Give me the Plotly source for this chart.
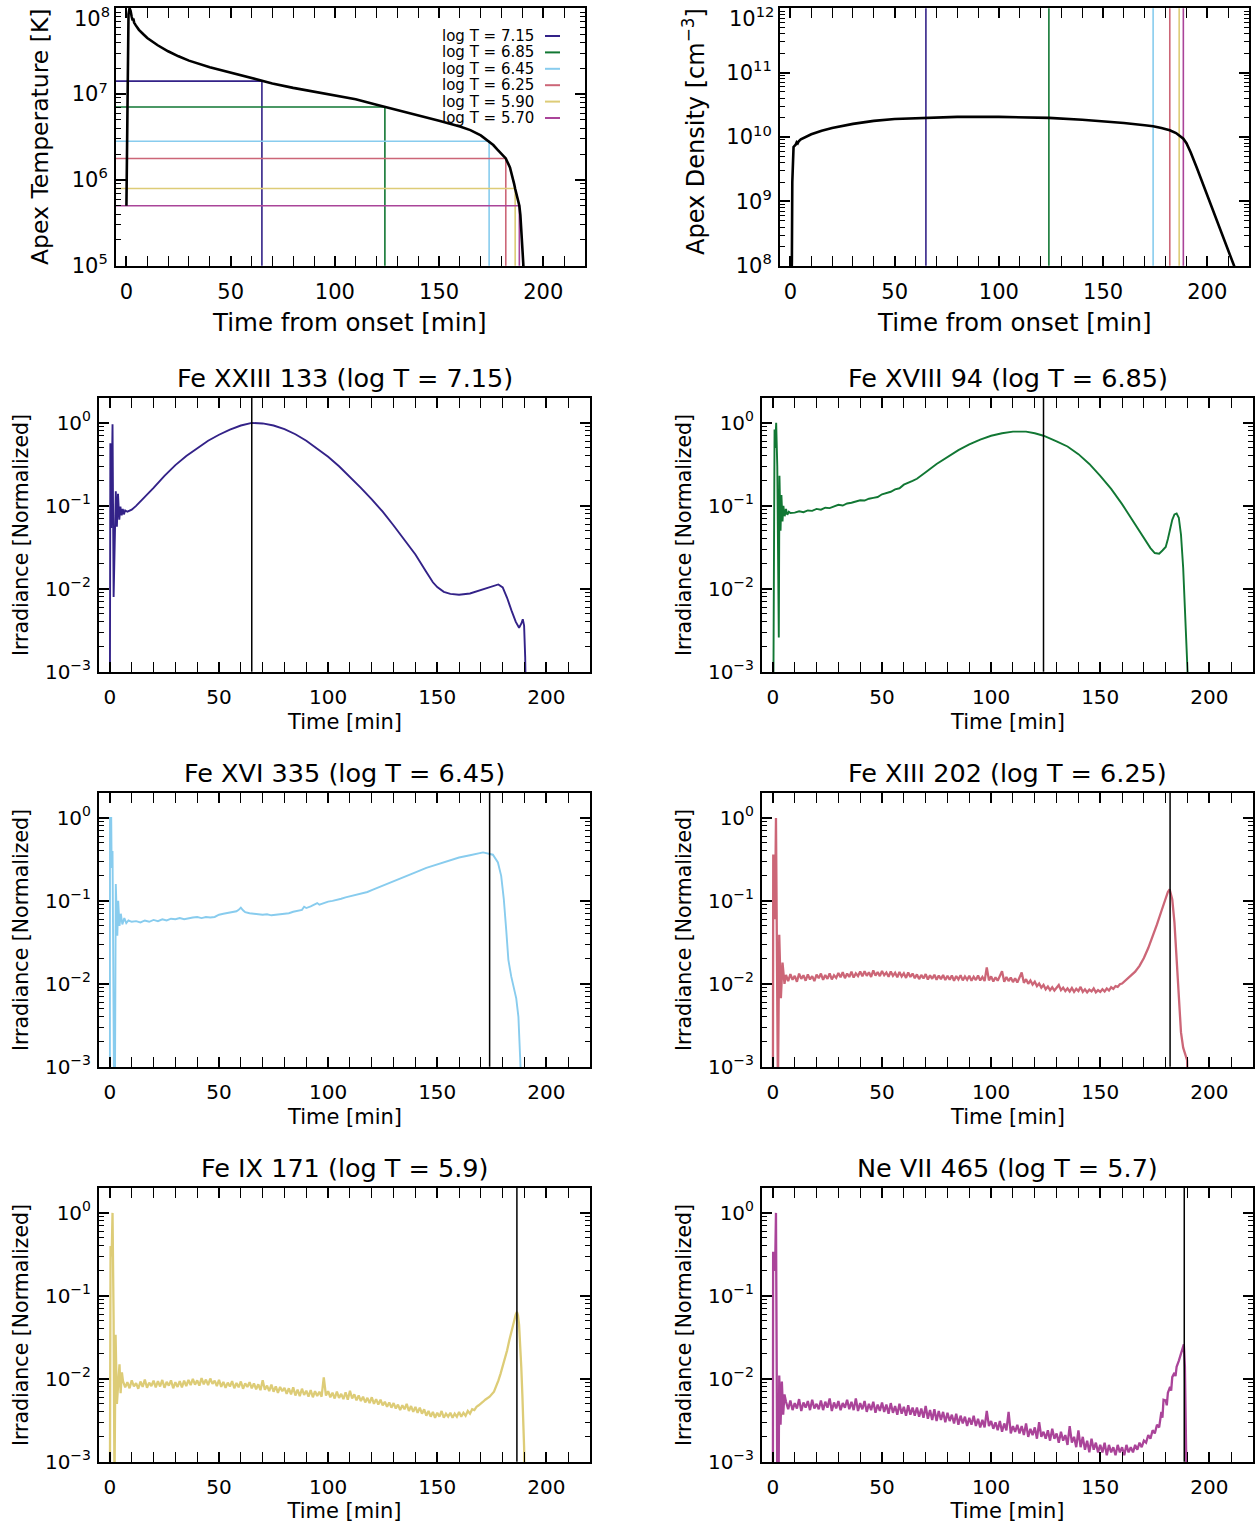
import numpy as np
import plotly.graph_objects as go

W, H = 1258, 1525          # reference picture size (all pixel positions below)
FIG_H = 1537               # page height actually photographed, squeezed to H
FONT = "DejaVu Sans"

# ---------------- data ----------------
colors = ["#332288", "#117733", "#88CCEE", "#CC6677", "#DDCC77", "#AA4499"]
line_logT = [7.15, 6.85, 6.45, 6.25, 5.90, 5.70]
line_times = [65.0, 124.0, 174.0, 182.0, 186.5, 188.5]
legend_labels = ["log T = 7.15", "log T = 6.85", "log T = 6.45",
                 "log T = 6.25", "log T = 5.90", "log T = 5.70"]
ion_titles = ["Fe XXIII 133 (log T = 7.15)", "Fe XVIII 94 (log T = 6.85)",
              "Fe XVI 335 (log T = 6.45)", "Fe XIII 202 (log T = 6.25)",
              "Fe IX 171 (log T = 5.9)", "Ne VII 465 (log T = 5.7)"]
x_ticks = [0, 50, 100, 150, 200]

t_temp = [0.0, 0.3, 0.6, 1.0, 1.5, 2.0, 2.5, 3.0, 3.3, 3.7, 4.5, 6, 8, 10, 15,
          20, 25, 30, 40, 50, 60, 65, 70, 80, 90, 100, 110, 120, 124, 130,
          140, 150, 160, 165, 170, 174, 176, 178, 180, 182, 184, 185, 186,
          186.5, 187, 188, 188.5, 189, 189.5, 190, 190.5, 191]
T_apex = [5.0e5, 4e6, 3e7, 8.5e7, 1.0e8, 9.3e7, 8.0e7, 7.2e7, 7.6e7, 6.8e7,
          6.3e7, 5.6e7, 5.0e7, 4.5e7, 3.7e7, 3.15e7, 2.75e7, 2.45e7, 2.05e7,
          1.78e7, 1.53e7, 1.42e7, 1.33e7, 1.18e7, 1.07e7, 9.7e6, 8.7e6, 7.5e6,
          7.1e6, 6.5e6, 5.6e6, 4.9e6, 4.2e6, 3.8e6, 3.3e6, 2.82e6, 2.55e6,
          2.25e6, 2.0e6, 1.78e6, 1.4e6, 1.15e6, 9.0e5, 7.9e5, 7.0e5, 5.6e5,
          5.0e5, 3.9e5, 2.6e5, 1.6e5, 1.0e5, 6e4]

t_dens = [0.5, 0.7, 0.9, 1.1, 1.5, 2.5, 3.0, 3.5, 4, 5, 7, 10, 15, 20, 30, 40,
          50, 65, 80, 100, 110, 124, 140, 150, 160, 170, 174, 178, 182, 185,
          187, 188.5, 190, 192, 195, 200, 205, 210, 213, 214]
n_apex = [5e7, 1.2e8, 2e9, 5e9, 7e9, 7.6e9, 8.3e9, 8.0e9, 8.6e9, 9.2e9,
          1.0e10, 1.1e10, 1.25e10, 1.38e10, 1.6e10, 1.78e10, 1.9e10, 1.98e10,
          2.05e10, 2.05e10, 2.03e10, 1.98e10, 1.85e10, 1.75e10, 1.65e10,
          1.52e10, 1.47e10, 1.38e10, 1.27e10, 1.15e10, 1.04e10, 9.4e9, 8.0e9,
          5.8e9, 3.3e9, 1.25e9, 4.7e8, 1.8e8, 1.0e8, 8e7]

# Fe XXIII 133
t_fe23 = [0.0, 0.2, 0.6, 1.2, 1.7, 2.7, 3.2, 3.7, 4.3, 4.8, 5.4, 5.9, 6.4, 7.0,
          8.0, 10, 12, 15, 20, 25, 30, 35, 40, 45, 50, 55, 60, 65, 70, 75, 80,
          85, 90, 95, 100, 105, 110, 115, 120, 125, 130, 135, 140, 145, 148,
          150, 153, 156, 160, 165, 170, 175, 178, 180, 182, 184, 186, 187.5,
          188.5, 189.2, 189.8, 190.3, 190.6]
I_fe23 = [0.0005, 0.57, 0.054, 0.96, 0.008, 0.15, 0.056, 0.14, 0.068, 0.098,
          0.077, 0.092, 0.079, 0.088, 0.085, 0.09, 0.10, 0.12, 0.165, 0.23,
          0.31, 0.40, 0.50, 0.61, 0.72, 0.83, 0.93, 1.0, 0.985, 0.93, 0.84,
          0.73, 0.61, 0.49, 0.39, 0.30, 0.225, 0.165, 0.12, 0.085, 0.058,
          0.039, 0.026, 0.016, 0.012, 0.0105, 0.0092, 0.0087, 0.0085, 0.0088,
          0.0097, 0.0108, 0.0113, 0.0104, 0.0078, 0.0055, 0.0040, 0.0034,
          0.0038, 0.0043, 0.0036, 0.0015, 0.0005]

# Fe XVIII 94
t_fe18 = ([0.2, 0.5, 0.75, 1.0, 1.5, 2.0, 2.7, 3.0, 3.5, 3.9, 4.4, 4.8, 5.4,
           6.0, 6.6, 7.3, 8] + list(range(10, 71, 2)) +
          [75, 80, 85, 90, 95, 100, 105, 110, 113, 116, 120, 124, 130, 135,
           140, 145, 150, 155, 160, 165, 170, 173, 175, 177, 178.5, 180, 181,
           182, 183, 184, 185, 186, 187, 188, 189, 190, 190.5])
I_fe18 = [0.0005, 0.3, 0.83, 0.5, 1.0, 0.3, 0.0026, 0.23, 0.05, 0.135, 0.065,
          0.10, 0.075, 0.092, 0.078, 0.085, 0.082,
          0.083, 0.086, 0.084, 0.088, 0.087, 0.092, 0.090, 0.095, 0.094, 0.099,
          0.103, 0.101, 0.107, 0.109, 0.112, 0.117, 0.116, 0.122, 0.125, 0.128,
          0.138, 0.142, 0.148, 0.158, 0.163, 0.180, 0.188, 0.200, 0.212, 0.230,
          0.255,
          0.32, 0.39, 0.47, 0.55, 0.63, 0.70, 0.75, 0.785, 0.79, 0.785, 0.75,
          0.70, 0.60, 0.52, 0.42, 0.32, 0.23, 0.16, 0.105, 0.065, 0.040, 0.031,
          0.027, 0.0265, 0.029, 0.032, 0.040, 0.052, 0.068, 0.079, 0.081,
          0.072, 0.045, 0.018, 0.0055, 0.0014, 0.0005]

# Fe XVI 335
t_fe16 = ([0.0, 0.05, 0.6, 0.8, 1.2, 1.6, 1.9, 2.3, 2.7, 3.4, 3.8, 4.4, 5.0,
           5.7, 6.6, 7.5, 8.5] + list(range(10, 59, 2)) +
          [59, 60, 61, 62] + list(range(64, 89, 2)) + [89, 90, 92, 94, 95, 96]
          + list(range(98, 121, 2)) +
          [125, 130, 135, 140, 145, 150, 155, 160, 165, 171, 175.5, 177.8,
           179.3, 180.5, 181.6, 182.6, 183.9, 185.1, 186.2, 187.2, 188.4,
           189.0])
I_fe16 = [0.0005, 1.0, 1.0, 0.25, 0.4, 0.03, 0.0005, 0.0005, 0.16, 0.038,
          0.10, 0.05, 0.07, 0.052, 0.062, 0.054, 0.058,
          0.056, 0.057, 0.055, 0.058, 0.056, 0.059, 0.057, 0.060, 0.058, 0.061,
          0.060, 0.062, 0.060, 0.062, 0.063, 0.064, 0.062, 0.064, 0.063, 0.064,
          0.068, 0.070, 0.072, 0.073, 0.075,
          0.078, 0.083, 0.077, 0.073,
          0.071, 0.070, 0.069, 0.068, 0.069, 0.067, 0.068, 0.069, 0.070, 0.071,
          0.074, 0.076, 0.078,
          0.085, 0.082, 0.086, 0.090, 0.094, 0.090,
          0.094, 0.098, 0.100, 0.104, 0.106, 0.110, 0.113, 0.116, 0.120, 0.122,
          0.128, 0.135,
          0.152, 0.172, 0.195, 0.22, 0.25, 0.277, 0.305, 0.333, 0.355, 0.384,
          0.36, 0.29, 0.20, 0.105, 0.045, 0.0195, 0.0123, 0.0087, 0.0067,
          0.0040, 0.0010, 0.0003]

# Fe XIII 202
t_fe13 = ([0.0, 0.15, 0.7, 0.95, 1.4, 1.9, 2.3, 2.9, 3.65, 4.4, 5.3] +
          list(range(6, 161)) +
          [162, 164, 166, 168, 170, 172, 174, 176, 178, 180, 181, 181.8, 182.5,
           183, 184, 185, 186, 187, 188, 189, 189.8, 190.2])
I_fe13 = [0.0005, 0.35, 0.35, 0.06, 1.0, 0.02, 0.0005, 0.039, 0.0067, 0.018,
          0.010,
          0.0128, 0.0108, 0.0131, 0.0112, 0.0125, 0.0106, 0.0133, 0.0115,
          0.0127, 0.0109, 0.0130, 0.0113, 0.0124, 0.0108, 0.0129,
          0.0117, 0.0133, 0.0112, 0.0128, 0.0115, 0.0134, 0.0113, 0.0127,
          0.0118, 0.0135,
          0.0120, 0.0138, 0.0117, 0.0133, 0.0121, 0.0140, 0.0119, 0.0134,
          0.0124, 0.0141,
          0.0123, 0.0142, 0.0125, 0.0138, 0.0121, 0.0145, 0.0126, 0.0139,
          0.0124, 0.0143, 0.0127, 0.0137, 0.0122, 0.0141, 0.0125,
          0.0136, 0.0120, 0.0139, 0.0123, 0.0134, 0.0118, 0.0137, 0.0121,
          0.0133, 0.0117,
          0.0130, 0.0114, 0.0128, 0.0116, 0.0131, 0.0113, 0.0127, 0.0115,
          0.0129, 0.0112, 0.0126, 0.0114, 0.0128, 0.0111, 0.0125,
          0.0112, 0.0126, 0.0109, 0.0124, 0.0113, 0.0127, 0.0110, 0.0123,
          0.0112, 0.0125, 0.0109, 0.0122, 0.0111, 0.0126, 0.0110,
          0.0121, 0.0108, 0.0158, 0.0110, 0.0123, 0.0107, 0.0120, 0.0109,
          0.0124, 0.0142, 0.0106, 0.0121, 0.0108, 0.0119, 0.0105,
          0.0117, 0.0104, 0.0118, 0.0137, 0.0103, 0.0114, 0.0100, 0.0110,
          0.0098, 0.0106,
          0.0094, 0.0101, 0.0090, 0.0097, 0.0086, 0.0093, 0.0084, 0.0091,
          0.0083, 0.0089, 0.0097, 0.0084, 0.0090, 0.0082, 0.0088,
          0.0081, 0.0089, 0.0080, 0.0087, 0.0082, 0.0092, 0.0080, 0.0086,
          0.0079, 0.0085, 0.0081, 0.0088, 0.0079, 0.0084, 0.0080,
          0.0086, 0.0081, 0.0088, 0.0083, 0.0091, 0.0087, 0.0094, 0.0092,
          0.0099, 0.0101,
          0.0112, 0.0124, 0.014, 0.0165, 0.0205, 0.027, 0.037, 0.052, 0.075,
          0.112, 0.128, 0.138, 0.12, 0.104, 0.055, 0.021, 0.0068, 0.0026,
          0.0017, 0.0014, 0.0012, 0.0004]

# Fe IX 171
t_fe9 = ([0.0, 0.3, 0.8, 1.2, 1.7, 2.1, 2.6, 3.2, 4.4, 4.9, 5.5] +
         list(range(6, 173)) +
         [174, 176, 177, 178, 179, 180, 181, 182, 183, 184, 185, 186, 186.5,
          187, 187.5, 188, 188.5, 189, 189.5, 189.8, 190.1])
I_fe9 = [0.0005, 0.4, 0.3, 1.0, 0.05, 0.0005, 0.034, 0.005, 0.015, 0.0067,
         0.012,
         0.0094, 0.0079, 0.0091, 0.0077, 0.0096, 0.0081, 0.0089, 0.0076,
         0.0093, 0.0080, 0.0098, 0.0078, 0.0090, 0.0082, 0.0095,
         0.0079, 0.0094, 0.0081, 0.0097, 0.0078, 0.0092, 0.0083, 0.0096,
         0.0077, 0.0091, 0.0080, 0.0094, 0.0079, 0.0095, 0.0082,
         0.0097, 0.0084, 0.0100, 0.0085, 0.0096, 0.0083, 0.0102, 0.0086,
         0.0098, 0.0084, 0.0101, 0.0087, 0.0095, 0.0082, 0.0097,
         0.0080, 0.0092, 0.0078, 0.0090, 0.0081, 0.0094, 0.0077, 0.0089,
         0.0079, 0.0093, 0.0076, 0.0088, 0.0080, 0.0091, 0.0077,
         0.0088, 0.0075, 0.0086, 0.0073, 0.0096, 0.0074, 0.0083, 0.0071,
         0.0085, 0.0070, 0.0081, 0.0068, 0.0080, 0.0071, 0.0078,
         0.0066, 0.0077, 0.0065, 0.0079, 0.0063, 0.0074, 0.0062, 0.0076,
         0.0064, 0.0072, 0.0061, 0.0073, 0.0060, 0.0071, 0.0062,
         0.0070, 0.0061, 0.0104, 0.0063, 0.0071, 0.0060, 0.0068, 0.0058,
         0.0070, 0.0059, 0.0066, 0.0057, 0.0069, 0.0056, 0.0072,
         0.0058, 0.0065, 0.0055, 0.0063, 0.0054, 0.0061, 0.0052, 0.0059,
         0.0051, 0.0060, 0.0050, 0.0057, 0.0049, 0.0056, 0.0048,
         0.0053, 0.0046, 0.0052, 0.0045, 0.0051, 0.0044, 0.0049, 0.0042,
         0.0048, 0.0043, 0.0050, 0.0041, 0.0047, 0.0040, 0.0046,
         0.0039, 0.0045, 0.0038, 0.0043, 0.0036, 0.0041, 0.0035, 0.0040,
         0.0034, 0.0039, 0.0035, 0.0041, 0.0034, 0.0038, 0.0035,
         0.0039, 0.0034, 0.0038, 0.0035, 0.0040, 0.0035, 0.0039, 0.0036,
         0.0041, 0.0038,
         0.0043, 0.0042, 0.0046, 0.0048, 0.0050, 0.0053, 0.0056,
         0.0061, 0.0070, 0.0080, 0.0095, 0.0115, 0.014, 0.0175, 0.022, 0.029,
         0.038, 0.049, 0.060, 0.064, 0.058, 0.045, 0.027, 0.014, 0.0065,
         0.0032, 0.0015, 0.0004]

# Ne VII 465
t_ne7 = ([0.0, 0.1, 0.75, 1.0, 1.4, 2.0, 2.6, 2.9, 3.5, 4.1, 4.7, 5.3] +
         list(range(6, 171)) +
         [171, 172, 173, 174, 175, 176, 177, 178, 178.5, 179, 180, 180.5, 181,
          182, 182.5, 183, 184, 184.5, 185, 186, 187, 188.3, 188.8, 189.2,
          189.6])
I_ne7 = [0.0005, 0.33, 0.33, 0.2, 1.0, 0.0005, 0.0005, 0.011, 0.0028, 0.0093,
         0.0037, 0.0065,
         0.0053, 0.0043, 0.0055, 0.0042, 0.0051, 0.0044, 0.0057, 0.0041,
         0.0052, 0.0045, 0.0054, 0.0042, 0.0056, 0.0044, 0.0050,
         0.0043, 0.0055, 0.0042, 0.0053, 0.0045, 0.0058, 0.0041, 0.0052,
         0.0044, 0.0054, 0.0042, 0.0051, 0.0045, 0.0056, 0.0043,
         0.0053, 0.0042, 0.0058, 0.0041, 0.0051, 0.0043, 0.0054, 0.0040,
         0.0050, 0.0042, 0.0053, 0.0039, 0.0049, 0.0041, 0.0052,
         0.0040, 0.0049, 0.0038, 0.0051, 0.0039, 0.0047, 0.0037, 0.0050,
         0.0038, 0.0046, 0.0036, 0.0048, 0.0037, 0.0045, 0.0036,
         0.0045, 0.0035, 0.0044, 0.0034, 0.0047, 0.0033, 0.0042, 0.0032,
         0.0043, 0.0031, 0.0041, 0.0032, 0.0040, 0.0030, 0.0039,
         0.0031, 0.0037, 0.0029, 0.0038, 0.0028, 0.0036, 0.0029, 0.0035,
         0.0027, 0.0034, 0.0028, 0.0036, 0.0027, 0.0033, 0.0026,
         0.0032, 0.0026, 0.0041, 0.0027, 0.0031, 0.0025, 0.0030, 0.0024,
         0.0031, 0.0023, 0.0029, 0.0024, 0.0040, 0.0022, 0.0027,
         0.0023, 0.0028, 0.0022, 0.0027, 0.0021, 0.0029, 0.0020, 0.0025,
         0.0021, 0.0026, 0.0019, 0.0030, 0.0020, 0.0023, 0.0019,
         0.0024, 0.0018, 0.0025, 0.0019, 0.0022, 0.0017, 0.0023, 0.0018,
         0.0021, 0.0016, 0.0027, 0.0017, 0.0020, 0.0015, 0.0024,
         0.0015, 0.0020, 0.0014, 0.0018, 0.0013, 0.0019, 0.0014, 0.0017,
         0.0013, 0.0016, 0.0013, 0.0017, 0.0012, 0.0016, 0.0013,
         0.0015, 0.0012, 0.0016, 0.0013, 0.0015, 0.0012, 0.0016, 0.0013,
         0.0015, 0.0013, 0.0016, 0.0014, 0.0017, 0.0015, 0.0018,
         0.0017, 0.0021, 0.0019, 0.0024, 0.0022, 0.0028, 0.0026, 0.0040,
         0.0034, 0.0056, 0.0055, 0.0048, 0.0068, 0.0080, 0.0072, 0.0105,
         0.0118, 0.0108, 0.0140, 0.0165, 0.020, 0.026, 0.014, 0.004, 0.0005]

ion_t = [t_fe23, t_fe18, t_fe16, t_fe13, t_fe9, t_ne7]
ion_I = [I_fe23, I_fe18, I_fe16, I_fe13, I_fe9, I_ne7]
ion_width = [1.9, 1.9, 1.9, 2.3, 2.3, 2.3]

# ---------------- layout helpers ----------------
X_RANGE = [-5, 220]


def xd(l, r):
    return [l / W, r / W]


def yd(t, b):
    return [1 - b / H, 1 - t / H]


def sup_label(e):
    return "10<sup>" + str(e).replace("-", "\u2212") + "</sup>"


# (x-pixels, y-pixels, log-y-range, decades)
panels = [
    ((116, 585), (8, 266), [4.998, 8.002], [5, 6, 7, 8]),
    ((780, 1249), (8, 266), [7.998, 12.002], [8, 9, 10, 11, 12]),
    ((99, 590), (398, 672), [-3.002, 0.3], [-3, -2, -1, 0]),
    ((762, 1253), (398, 672), [-3.002, 0.3], [-3, -2, -1, 0]),
    ((99, 590), (793, 1067), [-3.002, 0.3], [-3, -2, -1, 0]),
    ((762, 1253), (793, 1067), [-3.002, 0.3], [-3, -2, -1, 0]),
    ((99, 590), (1188, 1462), [-3.002, 0.3], [-3, -2, -1, 0]),
    ((762, 1253), (1188, 1462), [-3.002, 0.3], [-3, -2, -1, 0]),
]
NP = len(panels)

layout = dict(
    width=W, height=FIG_H, margin=dict(l=0, r=0, t=0, b=0),
    paper_bgcolor="white", plot_bgcolor="white", showlegend=False,
    font=dict(family=FONT, color="black"),
)

annotations = []
shapes = []
fig = go.Figure()


def axes(n):
    return ("x" if n == 1 else f"x{n}"), ("y" if n == 1 else f"y{n}")


for i, (xp, yp, yr, decs) in enumerate(panels):
    n = i + 1
    xa = "xaxis" if n == 1 else f"xaxis{n}"
    ya = "yaxis" if n == 1 else f"yaxis{n}"
    xs, ys = axes(n)
    tsize = 21 if n <= 2 else 20
    layout[xa] = dict(
        domain=xd(*xp), anchor=ys, range=X_RANGE,
        showline=True, linecolor="black", linewidth=2, mirror="allticks",
        ticks="inside", ticklen=10, tickwidth=1.5, tickcolor="black",
        tickmode="array", tickvals=x_ticks, ticktext=[str(v) for v in x_ticks],
        tickfont=dict(size=tsize, family=FONT), ticklabelstandoff=6,
        minor=dict(ticks="inside", ticklen=5, tickwidth=1.2, tickcolor="black",
                   dtick=10, tick0=0, showgrid=False),
        showgrid=False, zeroline=False,
    )
    if n >= 7:
        # bottom row: x title drawn by the axis itself
        layout[xa]["title"] = dict(text="Time [min]",
                                   font=dict(size=21, family=FONT),
                                   standoff=5)
    # the topmost decade label of the top row sits at the page edge:
    # it is written as an annotation so it stays inside the page
    texts = [sup_label(d) for d in decs]
    if n <= 2:
        texts[-1] = ""
        annotations.append(dict(
            text=sup_label(decs[-1]), x=(xp[0] - 4) / W, y=1 - 1 / H,
            xref="paper", yref="paper", xanchor="right", yanchor="top",
            showarrow=False, font=dict(size=tsize, family=FONT)))
    layout[ya] = dict(
        domain=yd(*yp), anchor=xs, type="log", range=yr,
        showline=True, linecolor="black", linewidth=2, mirror="allticks",
        ticks="inside", ticklen=10, tickwidth=1.5, tickcolor="black",
        tickmode="array", tickvals=[10.0 ** d for d in decs], ticktext=texts,
        tickfont=dict(size=tsize, family=FONT), ticklabelstandoff=2,
        showgrid=False, zeroline=False,
    )
    # overlay axis carrying the minor (2..9) log ticks
    m = n + NP
    minor_vals = [k * 10.0 ** d for d in range(decs[0] - 1, decs[-1] + 1)
                  for k in range(2, 10)]
    layout[f"yaxis{m}"] = dict(
        overlaying=ys, anchor=xs, type="log", range=yr, side="left",
        showline=False, mirror="ticks", ticks="inside", ticklen=5,
        tickwidth=1.2, tickcolor="black", tickmode="array",
        tickvals=minor_vals, showticklabels=False,
        showgrid=False, zeroline=False,
    )
    fig.add_trace(go.Scatter(x=[], y=[], xaxis=xs, yaxis=f"y{m}",
                             mode="lines", hoverinfo="skip"))


# ---- panel 1: apex temperature ----
xa, ya = axes(1)
for c, lt, tt in zip(colors, line_logT, line_times):
    fig.add_trace(go.Scatter(
        x=[X_RANGE[0], tt, tt], y=[10 ** lt, 10 ** lt, 10 ** 5],
        mode="lines", line=dict(color=c, width=1.6), xaxis=xa, yaxis=ya))
fig.add_trace(go.Scatter(x=t_temp, y=T_apex, mode="lines",
                         line=dict(color="black", width=2.6),
                         xaxis=xa, yaxis=ya))

# ---- panel 2: apex density ----
xa, ya = axes(2)
for c, tt in zip(colors, line_times):
    fig.add_trace(go.Scatter(
        x=[tt, tt], y=[1e8, 1e12], mode="lines",
        line=dict(color=c, width=1.6), xaxis=xa, yaxis=ya))
fig.add_trace(go.Scatter(x=t_dens, y=n_apex, mode="lines",
                         line=dict(color="black", width=2.6),
                         xaxis=xa, yaxis=ya))

# ---- irradiance panels ----
for k in range(6):
    n = k + 3
    xa, ya = axes(n)
    fig.add_trace(go.Scatter(x=ion_t[k], y=ion_I[k], mode="lines",
                             line=dict(color=colors[k], width=ion_width[k]),
                             xaxis=xa, yaxis=ya))
    fig.add_trace(go.Scatter(x=[line_times[k], line_times[k]],
                             y=[1e-3, 10 ** 0.3], mode="lines",
                             line=dict(color="black", width=1.5),
                             xaxis=xa, yaxis=ya))

# legend in panel 1
for j, (lab, c) in enumerate(zip(legend_labels, colors)):
    ypix = 36 + j * 16.4
    annotations.append(dict(text=lab, x=536 / W, y=1 - ypix / H,
                            xref="paper", yref="paper", xanchor="right",
                            yanchor="middle", showarrow=False,
                            font=dict(size=15, family=FONT)))
    shapes.append(dict(type="line", xref="paper", yref="paper",
                       x0=545 / W, x1=560 / W, y0=1 - ypix / H,
                       y1=1 - ypix / H, line=dict(color=c, width=2)))


def ann(text, xpix, ypix, size, angle=0):
    annotations.append(dict(text=text, x=xpix / W, y=1 - ypix / H,
                            xref="paper", yref="paper", xanchor="center",
                            yanchor="middle", showarrow=False,
                            textangle=angle,
                            font=dict(size=size, family=FONT)))


ann("Time from onset [min]", 350, 323, 24.5)
ann("Time from onset [min]", 1014, 323, 24.5)
ann("Apex Temperature [K]", 40, 137, 23.5, -90)
ann("Apex Density [cm<sup>\u22123</sup>]", 694, 132, 24, -90)

row_pix = [(398, 672), (793, 1067), (1188, 1462)]
col_pix = [(99, 590), (762, 1253)]
for k in range(6):
    r, cidx = divmod(k, 2)
    top, bot = row_pix[r]
    l, rr = col_pix[cidx]
    xc = (l + rr) / 2
    ann(ion_titles[k], xc, top - 20, 25.5)
    if r < 2:
        ann("Time [min]", xc, bot + 50, 21)
    ann("Irradiance [Normalized]", l - 78, (top + bot) / 2, 20.5, -90)

layout["annotations"] = annotations
layout["shapes"] = shapes
fig.update_layout(**layout)

PAGE_JS = (
    "var gd=document.getElementById('{plot_id}');"
    "gd.style.overflow='hidden';"
    "var r=document.documentElement.style;"
    "r.margin='0';r.padding='0';r.overflow='hidden';"
    "var b=document.body.style;"
    "b.margin='0';b.padding='0';b.overflow='hidden';"
)

fig.write_html(
    "out.html",
    config={"displayModeBar": False},
    post_script=PAGE_JS,
)
